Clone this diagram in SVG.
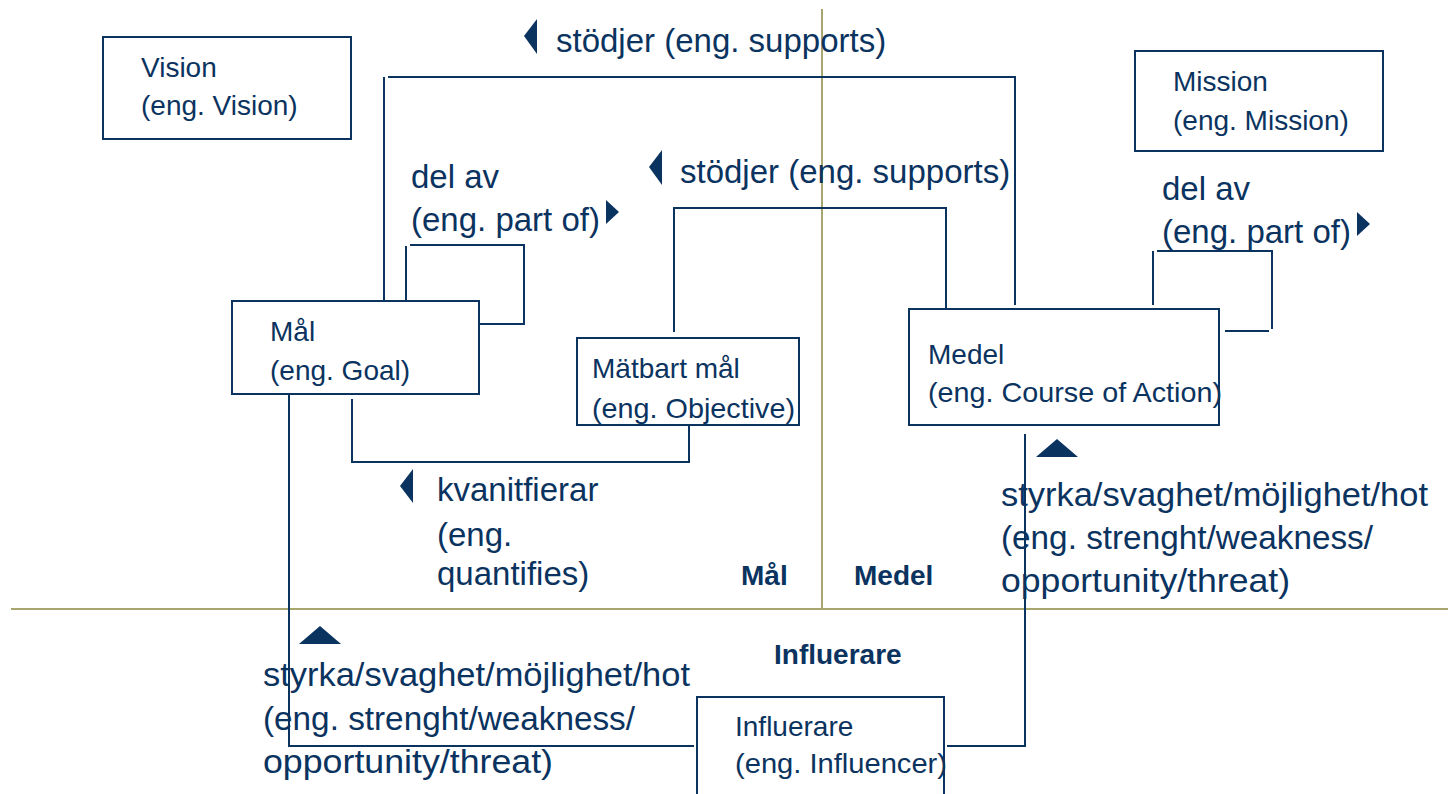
<svg xmlns="http://www.w3.org/2000/svg" width="1448" height="794" viewBox="0 0 1448 794">
<style>
.box{fill:#fff;stroke:#0b3360;stroke-width:2}
.ln{fill:none;stroke:#0b3360;stroke-width:2}
.grid{fill:none;stroke:#a8a66c;stroke-width:2}
.t{font-family:"Liberation Sans",Arial,sans-serif;font-size:28px;fill:#0b3360}
.l{font-family:"Liberation Sans",Arial,sans-serif;font-size:33px;fill:#0b3360}
.b{font-family:"Liberation Sans",Arial,sans-serif;font-size:28px;font-weight:bold;fill:#0b3360}
.ah{fill:#0b3360}
</style>
<rect width="1448" height="794" fill="#fff"/>
<g id="areas">
<line class="grid" x1="822" y1="9" x2="822" y2="609"/>
<line class="grid" x1="11" y1="609" x2="1448" y2="609"/>
<text class="b" x="741" y="585">Mål</text>
<text class="b" x="854" y="585">Medel</text>
<text class="b" x="774" y="664">Influerare</text>
</g>
<g id="connectors">
<polyline class="ln" points="384,300 384,77"/>
<polyline class="ln" points="388,77 1015,77 1015,305"/>
<polyline class="ln" points="406,301 406,246"/>
<polyline class="ln" points="410,245 524,245 524,324 480,324"/>
<polyline class="ln" points="674,332 674,208 946,208 946,311"/>
<polyline class="ln" points="352,399 352,462 689,462 689,426"/>
<polyline class="ln" points="289,394 289,746 694,746"/>
<polyline class="ln" points="947,746 1025,746 1025,434"/>
<polyline class="ln" points="1153,305 1153,251"/>
<polyline class="ln" points="1157,251 1272,251 1272,329"/>
<polyline class="ln" points="1225,331 1269,331"/>
<polygon class="ah" points="537,19 524,36 537,54"/>
<polygon class="ah" points="662,150 649,167 662,185"/>
<polygon class="ah" points="413,469 400,486 413,503"/>
<polygon class="ah" points="606,200 619,212 606,224"/>
<polygon class="ah" points="1357,212 1370,224 1357,236"/>
<polygon class="ah" points="299,644 320,626 341,644"/>
<polygon class="ah" points="1036,457 1057,439 1078,457"/>
<text class="l" x="556" y="52">stödjer (eng. supports)</text>
<text class="l" x="680" y="183">stödjer (eng. supports)</text>
<text class="l" x="411" y="188">del av</text>
<text class="l" x="411" y="231">(eng. part of)</text>
<text class="l" x="1162" y="200">del av</text>
<text class="l" x="1162" y="243">(eng. part of)</text>
<text class="l" x="437" y="501">kvanitfierar</text>
<text class="l" x="437" y="546">(eng.</text>
<text class="l" x="437" y="585">quantifies)</text>
<text class="l" x="263" y="686" textLength="427" lengthAdjust="spacingAndGlyphs">styrka/svaghet/möjlighet/hot</text>
<text class="l" x="263" y="730" textLength="372" lengthAdjust="spacingAndGlyphs">(eng. strenght/weakness/</text>
<text class="l" x="263" y="773" textLength="290" lengthAdjust="spacingAndGlyphs">opportunity/threat)</text>
<text class="l" x="1001" y="506" textLength="427" lengthAdjust="spacingAndGlyphs">styrka/svaghet/möjlighet/hot</text>
<text class="l" x="1001" y="549" textLength="372" lengthAdjust="spacingAndGlyphs">(eng. strenght/weakness/</text>
<text class="l" x="1001" y="592" textLength="289" lengthAdjust="spacingAndGlyphs">opportunity/threat)</text>
</g>
<g id="vision">
<rect class="box" x="103" y="37" width="248" height="102"/>
<text class="t" x="141" y="77">Vision</text>
<text class="t" x="141" y="115">(eng. Vision)</text>
</g>
<g id="mission">
<rect class="box" x="1135" y="51" width="248" height="100"/>
<text class="t" x="1173" y="91">Mission</text>
<text class="t" x="1173" y="130">(eng. Mission)</text>
</g>
<g id="goal">
<rect class="box" x="232" y="301" width="247" height="93"/>
<text class="t" x="270" y="341">Mål</text>
<text class="t" x="270" y="380">(eng. Goal)</text>
</g>
<g id="objective">
<rect class="box" x="577" y="338" width="222" height="87"/>
<text class="t" x="592" y="378">Mätbart mål</text>
<text class="t" x="592" y="418" textLength="203" lengthAdjust="spacingAndGlyphs">(eng. Objective)</text>
</g>
<g id="course-of-action">
<rect class="box" x="909" y="309" width="310" height="116"/>
<text class="t" x="928" y="364">Medel</text>
<text class="t" x="928" y="402" textLength="294" lengthAdjust="spacingAndGlyphs">(eng. Course of Action)</text>
</g>
<g id="influencer">
<rect class="box" x="697" y="697" width="247" height="110"/>
<text class="t" x="735" y="736">Influerare</text>
<text class="t" x="735" y="773" textLength="212" lengthAdjust="spacingAndGlyphs">(eng. Influencer)</text>
</g>
</svg>
